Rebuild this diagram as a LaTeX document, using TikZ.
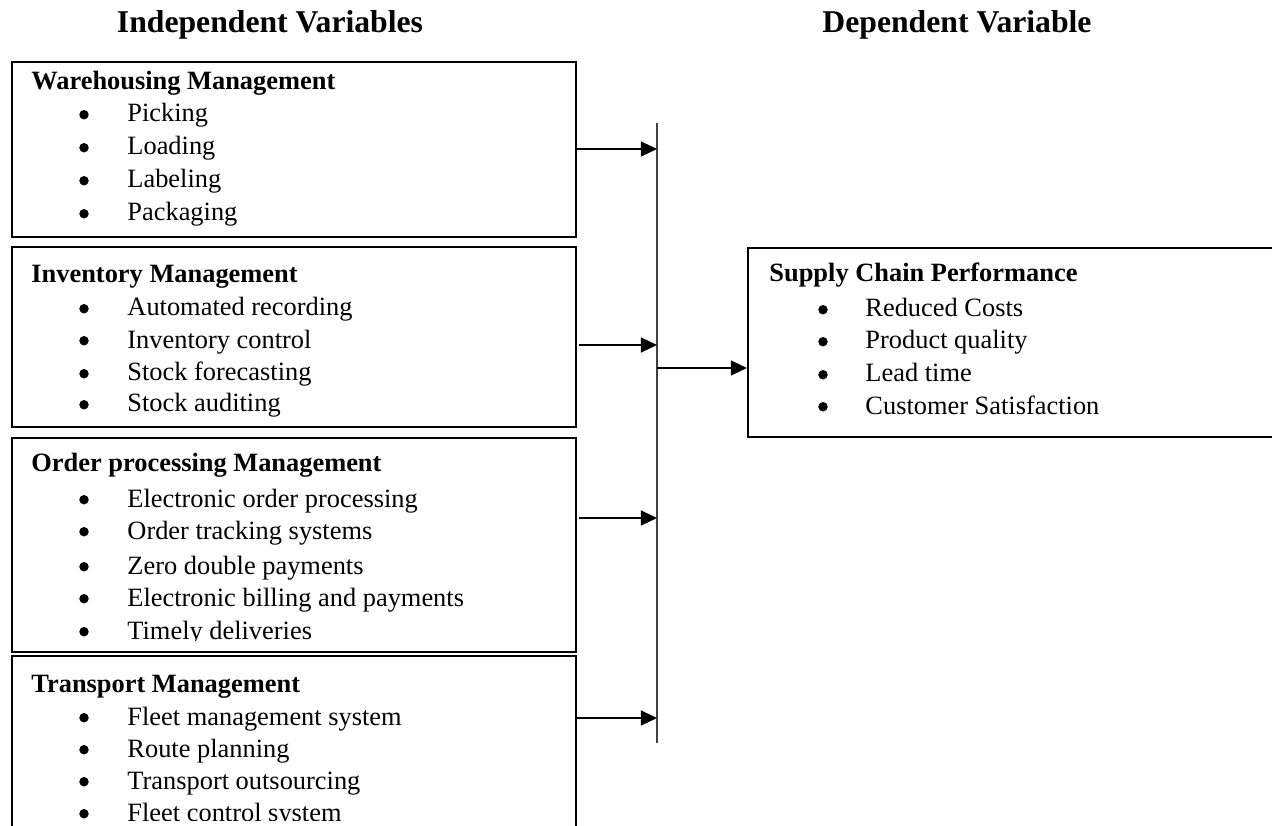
\documentclass[tikz,border=0pt]{standalone}
\usepackage{fontspec}
\setmainfont{Liberation Serif}
\usetikzlibrary{arrows.meta,fit}
\begin{document}
\begin{tikzpicture}[x=0.4545pt,y=-0.4545pt,
  hdr/.style={font=\fontsize{14.4}{17}\selectfont\bfseries,anchor=base,inner sep=0pt},
  ttl/.style={font=\fontsize{12}{15}\selectfont\bfseries,anchor=base west,inner sep=0pt},
  itm/.style={font=\fontsize{12}{15}\selectfont,anchor=base west,inner sep=0pt},
  bul/.style={circle,fill=black,inner sep=0pt,minimum size=4.3pt,yshift=3.3pt},
  boxst/.style={draw=black,line width=0.95pt,inner sep=0pt},
  spinest/.style={draw=black!75,line width=0.95pt},
  arr/.style={draw=black,line width=0.6pt,-{Triangle[length=7.3pt,width=6.8pt]}}]
\useasboundingbox (0,0) rectangle (1272,826);
% headers
\node[hdr] (h1) at (270,33) {Independent Variables};
\node[hdr] (h2) at (957,33) {Dependent Variable};
% boxes
\node[boxst,fit={(12,62)(576,237)}] (b1) {};
\node[boxst,fit={(12,247)(576,427)}] (b2) {};
\node[boxst,fit={(12,438)(576,652)}] (b3) {};
\node[boxst,fit={(12,656)(576,850)}] (b4) {};
\node[boxst,fit={(748,248)(1290,437)}] (b5) {};
% box 1 text
\node[ttl] (b1h) at (31,90) {Warehousing Management};
\foreach \yy/\tt [count=\i] in {122/Picking,155/Loading,188/Labeling,221/Packaging}{
  \node[bul] (b1d\i) at (84,\yy) {};
  \node[itm] (b1t\i) at (127,\yy) {\tt};
}
% box 2 text
\begin{scope}
\clip (12,247) rectangle (576,416);
\node[ttl] (b2h) at (31,283) {Inventory Management};
\foreach \yy/\tt [count=\i] in {316/Automated recording,348/Inventory control,381/Stock forecasting,412/Stock auditing}{
  \node[bul] (b2d\i) at (84,\yy) {};
  \node[itm] (b2t\i) at (127,\yy) {\tt};
}
\end{scope}
% box 3 text
\begin{scope}
\clip (12,438) rectangle (576,640);
\node[ttl] (b3h) at (31,472) {Order processing Management};
\foreach \yy/\tt [count=\i] in {507/Electronic order processing,539/Order tracking systems,574/Zero double payments,606/Electronic billing and payments,639/Timely deliveries}{
  \node[bul] (b3d\i) at (84,\yy) {};
  \node[itm] (b3t\i) at (127,\yy) {\tt};
}
\end{scope}
% box 4 text
\begin{scope}
\clip (12,656) rectangle (576,820);
\node[ttl] (b4h) at (31,692) {Transport Management};
\foreach \yy/\tt [count=\i] in {725/Fleet management system,757/Route planning,789/Transport outsourcing,821/Fleet control system}{
  \node[bul] (b4d\i) at (84,\yy) {};
  \node[itm] (b4t\i) at (127,\yy) {\tt};
}
\end{scope}
% box 5 text
\node[ttl] (b5h) at (769,282) {Supply Chain Performance};
\foreach \yy/\tt [count=\i] in {317/Reduced Costs,349/Product quality,382/Lead time,414/Customer Satisfaction}{
  \node[bul] (b5d\i) at (823,\yy) {};
  \node[itm] (b5t\i) at (865,\yy) {\tt};
}
% spine
\coordinate (spT) at (657,123);
\coordinate (spB) at (657,743);
\draw[spinest] (spT) -- (spB);
% arrows
\coordinate (s1) at (576,149);
\coordinate (s2) at (579,345);
\coordinate (s3) at (579,518);
\coordinate (s4) at (576,718);
\coordinate (s5) at (657,368);
\draw[arr] (s1) -- (spT |- s1);
\draw[arr] (s2) -- (spT |- s2);
\draw[arr] (s3) -- (spT |- s3);
\draw[arr] (s4) -- (spT |- s4);
\draw[arr] (s5) -- (b5.west |- s5);
\end{tikzpicture}
\end{document}
